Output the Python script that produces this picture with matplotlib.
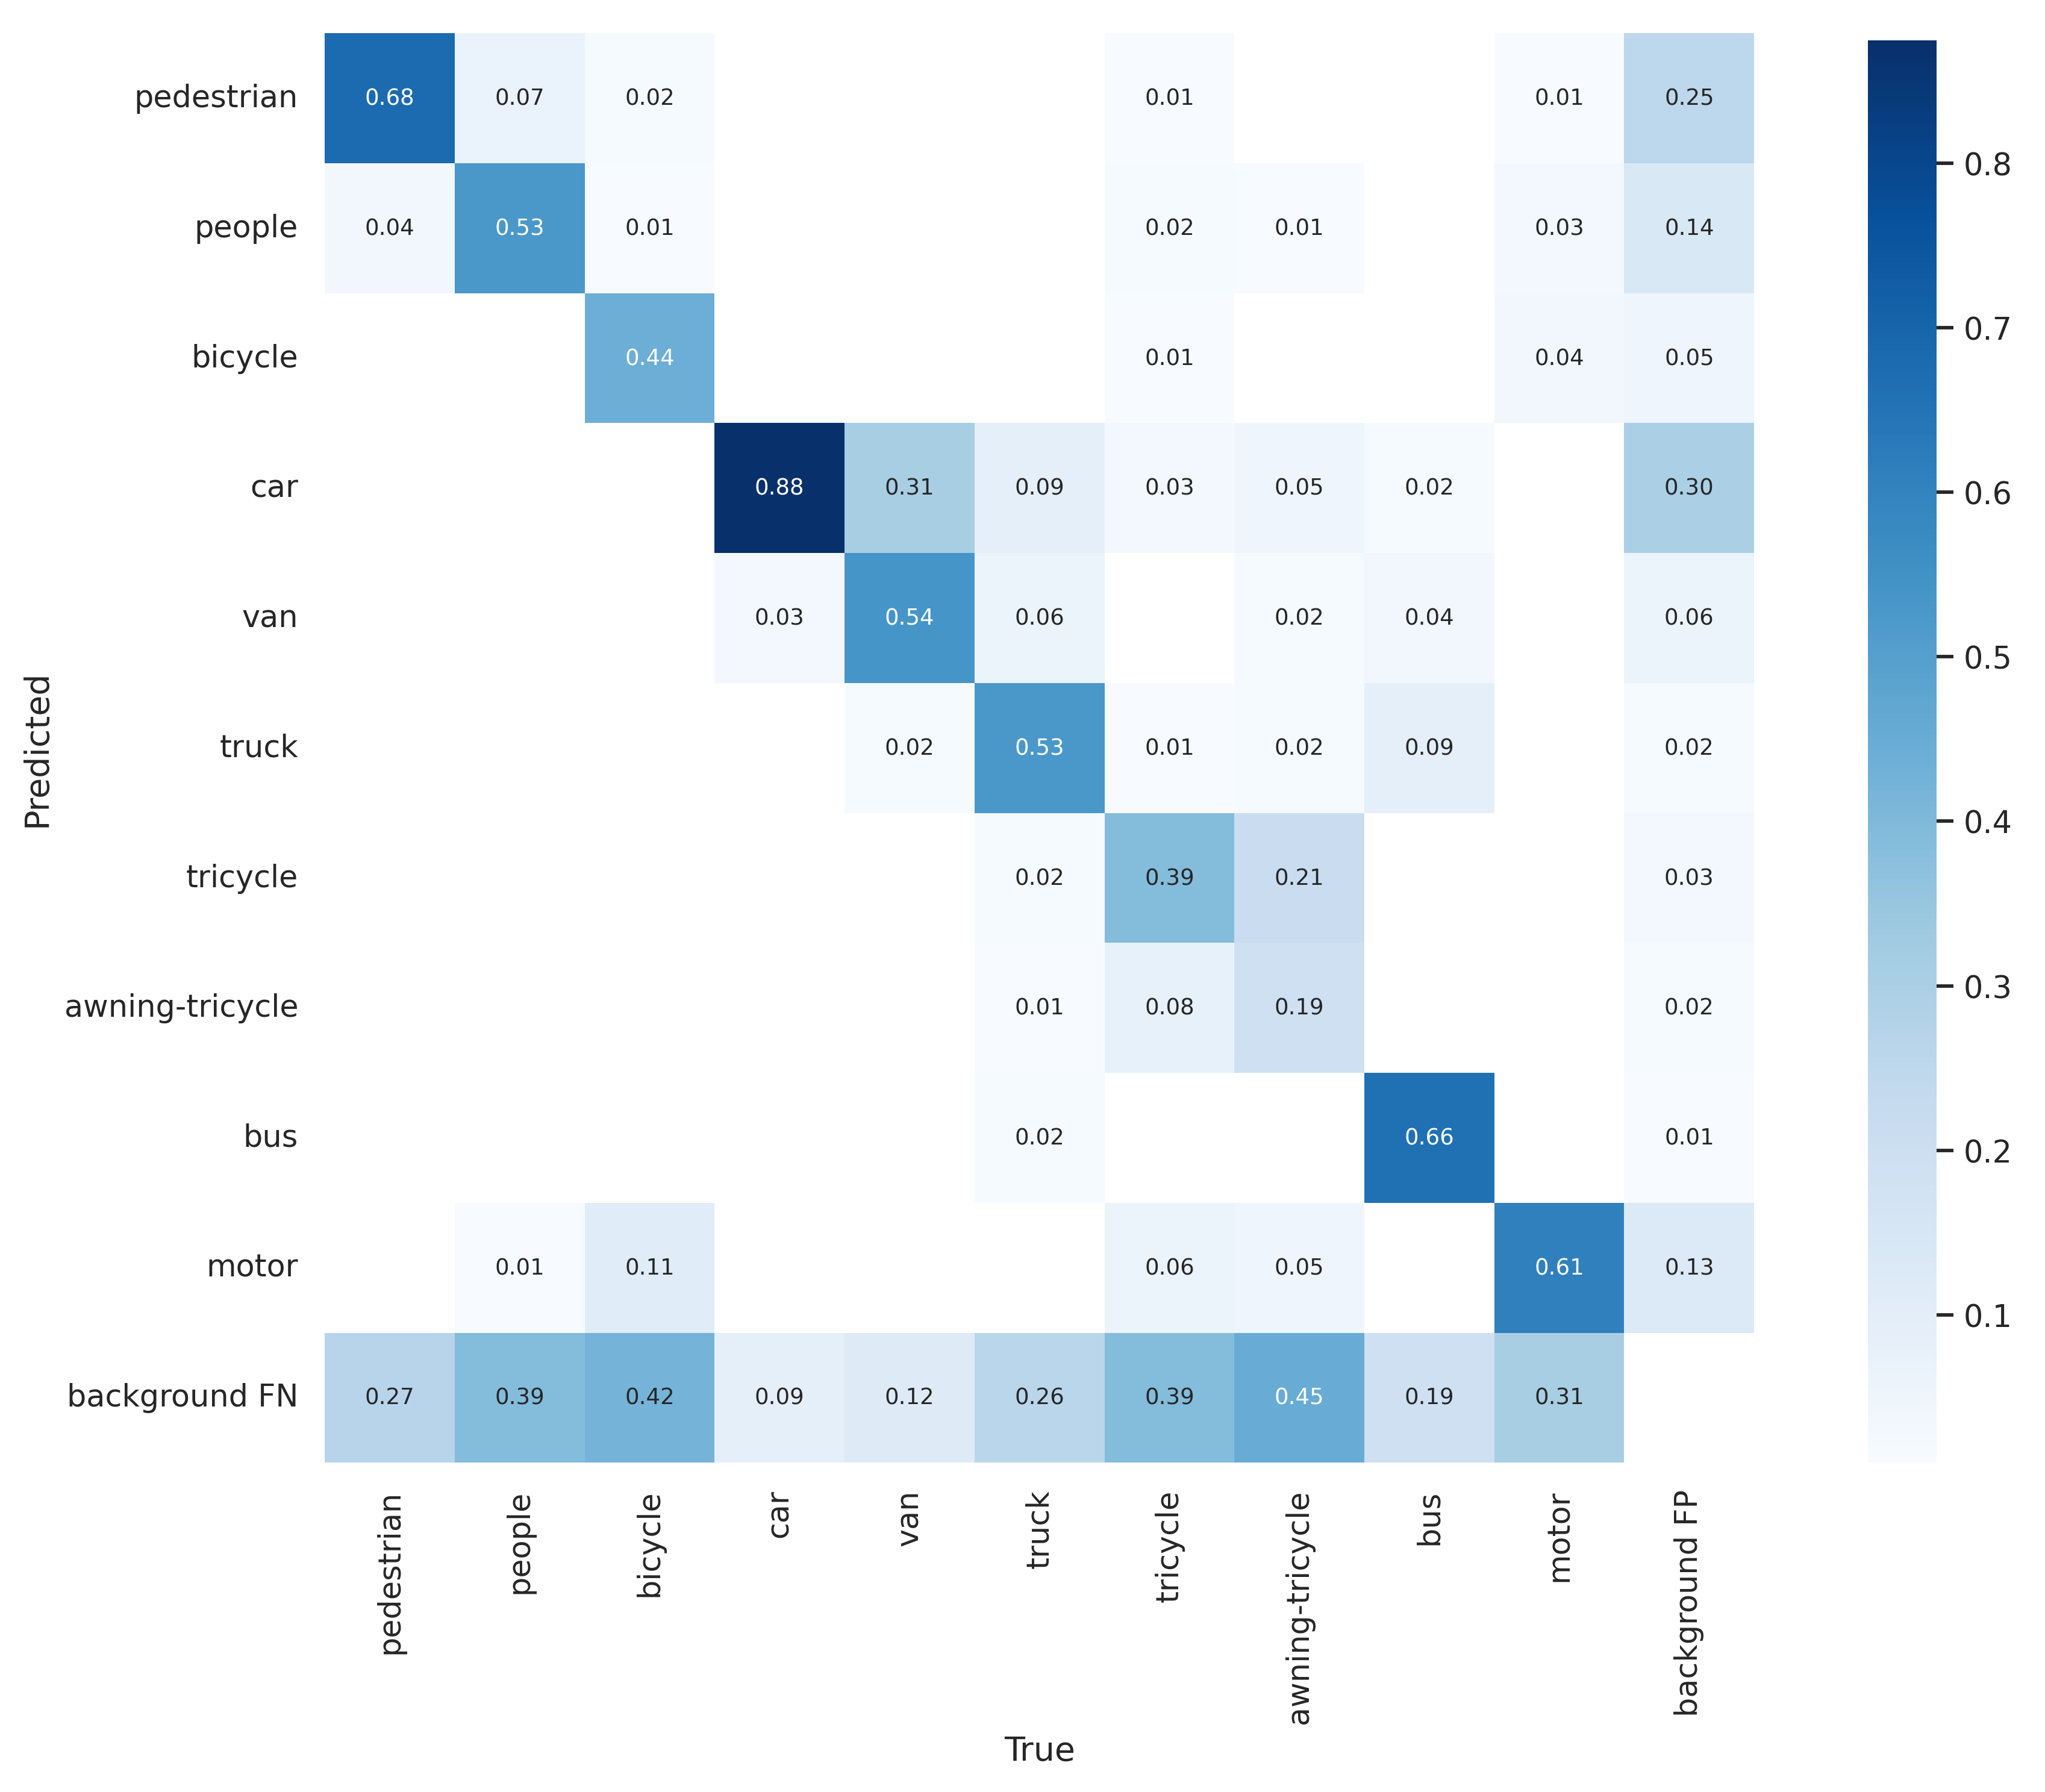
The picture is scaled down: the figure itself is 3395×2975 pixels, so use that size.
import numpy as np
import matplotlib
matplotlib.use("Agg")
import matplotlib.pyplot as plt
import seaborn as sns

true_labels = ["pedestrian", "people", "bicycle", "car", "van", "truck", "tricycle",
               "awning-tricycle", "bus", "motor", "background FP"]
pred_labels = ["pedestrian", "people", "bicycle", "car", "van", "truck", "tricycle",
               "awning-tricycle", "bus", "motor", "background FN"]
n = np.nan
row_pedestrian = [0.68, 0.07, 0.02, n, n, n, 0.01, n, n, 0.01, 0.25]
row_people = [0.04, 0.53, 0.01, n, n, n, 0.02, 0.01, n, 0.03, 0.14]
row_bicycle = [n, n, 0.44, n, n, n, 0.01, n, n, 0.04, 0.05]
row_car = [n, n, n, 0.875, 0.31, 0.09, 0.03, 0.05, 0.02, n, 0.30]
row_van = [n, n, n, 0.03, 0.54, 0.06, n, 0.02, 0.04, n, 0.06]
row_truck = [n, n, n, n, 0.02, 0.53, 0.01, 0.02, 0.09, n, 0.02]
row_tricycle = [n, n, n, n, n, 0.02, 0.39, 0.21, n, n, 0.03]
row_awning = [n, n, n, n, n, 0.01, 0.08, 0.19, n, n, 0.02]
row_bus = [n, n, n, n, n, 0.02, n, n, 0.66, n, 0.01]
row_motor = [n, 0.01, 0.11, n, n, n, 0.06, 0.05, n, 0.61, 0.13]
row_bgfn = [0.27, 0.39, 0.42, 0.09, 0.12, 0.26, 0.39, 0.45, 0.19, 0.31, n]

array = np.array([row_pedestrian, row_people, row_bicycle, row_car, row_van, row_truck,
                  row_tricycle, row_awning, row_bus, row_motor, row_bgfn])

DPI = 333
sns.set(font_scale=1.0)
fig = plt.figure(figsize=(3395 / DPI, 2976 / DPI), dpi=DPI)
ax = fig.add_axes([0.1588, 0.1837, 0.699, 0.7974])
cax = fig.add_axes([0.9133, 0.1837, 0.0338, 0.7936])
sns.heatmap(array, ax=ax, cbar_ax=cax, annot=True, annot_kws={"size": 8}, cmap="Blues",
            fmt=".2f", square=True, xticklabels=true_labels,
            yticklabels=pred_labels).set_facecolor((1, 1, 1))
ax.set_xlabel("True")
ax.set_ylabel("Predicted")
fig.savefig("out.png", dpi=DPI)
